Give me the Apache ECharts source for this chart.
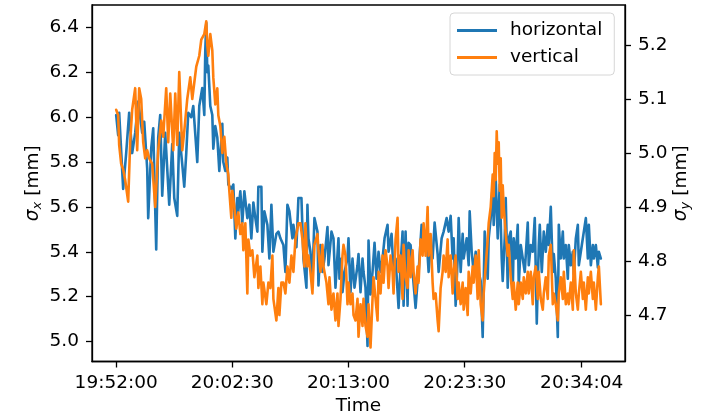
<!DOCTYPE html>
<html>
<head>
<meta charset="utf-8">
<script src="https://cdn.jsdelivr.net/npm/echarts@6/dist/echarts.min.js"></script>
<style>
  html, body { margin: 0; padding: 0; background: #fff; }
  #chart { width: 705px; height: 413px; }
</style>
</head>
<body>
<div id="chart"></div>
<script>
// Beam size logger: one step of the record index is 5.43 s, starting at 19:52:00.
const SAMPLE_SEC = 5.43;

// Horizontal beam size sigma_x [mm]: [record index, value]
const horizontal = [
  [0,6.01],[2,5.92],[3,6.02],[7,5.68],[10,5.84],[13,6.02],[16,5.84],[19,5.93],[22,6.07],[26,5.93],
  [28,5.98],[31,5.77],[32,5.55],[35,5.86],[37,5.95],[40,5.41],[42,5.91],[44,6.01],[46,5.65],[49,5.93],
  [53,5.61],[56,5.88],[58,5.64],[61,5.56],[63,5.93],[66,5.79],[68,5.69],[70,5.84],[72,6.02],[75,6.00],
  [77,6.05],[81,5.80],[83,6.05],[86,6.13],[88,6.01],[89,6.30],[90,6.42],[91,6.20],[92,6.23],[94,6.05],
  [96,6.01],[97,5.86],[99,5.96],[101,5.91],[103,5.76],[106,5.97],[107,5.80],[109,5.76],[111,5.82],[112,5.70],
  [115,5.68],[117,5.70],[119,5.46],[121,5.64],[122,5.58],[124,5.67],[126,5.53],[128,5.67],[131,5.55],[133,5.61],
  [135,5.46],[137,5.62],[139,5.55],[141,5.49],[142,5.69],[145,5.69],[146,5.40],[148,5.58],[151,5.52],[153,5.37],
  [155,5.61],[157,5.40],[160,5.48],[162,5.49],[164,5.46],[167,5.43],[169,5.31],[171,5.61],[173,5.58],[176,5.46],
  [177,5.52],[180,5.42],[182,5.64],[185,5.64],[187,5.37],[190,5.24],[191,5.61],[192,5.46],[194,5.40],[196,5.28],
  [198,5.55],[201,5.49],[202,5.25],[204,5.43],[206,5.31],[208,5.37],[211,5.51],[212,5.34],[215,5.49],[217,5.46],
  [219,5.24],[222,5.46],[223,5.28],[225,5.37],[226,5.22],[228,5.31],[231,5.37],[232,5.46],[234,5.22],[236,5.37],
  [238,5.24],[241,5.34],[242,5.39],[244,5.22],[246,5.37],[247,5.31],[249,5.24],[251,4.98],[252,5.45],[254,5.21],
  [256,5.31],[258,5.44],[260,5.28],[262,5.40],[264,5.31],[266,5.37],[268,5.46],[271,5.52],[272,5.40],[275,5.48],
  [277,5.31],[279,5.37],[282,5.15],[284,5.34],[286,5.49],[287,5.16],[289,5.49],[291,5.16],[292,5.44],[294,5.43],
  [296,5.31],[299,5.15],[301,5.27],[302,5.31],[305,5.52],[307,5.43],[310,5.46],[312,5.31],[314,5.43],[316,5.37],
  [318,5.53],[321,5.39],[322,5.31],[325,5.46],[327,5.49],[330,5.55],[332,5.49],[334,5.56],[336,5.37],[337,5.46],
  [339,5.16],[341,5.37],[342,5.55],[344,5.31],[346,5.48],[347,5.37],[350,5.46],[352,5.34],[353,5.58],[355,5.40],
  [357,5.31],[359,5.40],[362,5.31],[364,5.27],[366,5.02],[368,5.49],[371,5.28],[372,5.46],[374,5.55],[376,5.70],
  [377,5.52],[379,5.73],[381,5.46],[383,5.70],[385,5.37],[386,5.27],[388,5.46],[389,5.64],[391,5.24],[392,5.46],
  [394,5.49],[396,5.22],[397,5.46],[399,5.37],[401,5.52],[402,5.25],[404,5.43],[406,5.37],[408,5.31],[411,5.53],
  [412,5.34],[414,5.43],[416,5.40],[418,5.55],[420,5.08],[422,5.43],[423,5.52],[425,5.31],[427,5.49],[429,5.40],
  [431,5.52],[432,5.43],[434,5.60],[436,5.31],[437,5.39],[439,5.28],[441,5.02],[442,5.52],[444,5.37],[446,5.49],
  [447,5.37],[449,5.43],[451,5.28],[452,5.43],[454,5.34],[456,5.40],[457,5.30],[459,5.46],[461,5.52],[462,5.34],
  [465,5.43],[467,5.49],[469,5.55],[471,5.37],[472,5.52],[474,5.34],[476,5.43],[477,5.37],[479,5.43],[481,5.33],
  [482,5.40],[484,5.37]
];

// Vertical beam size sigma_y [mm]: [record index, value]
const vertical = [
  [0,5.08],[2,5.07],[3,5.015],[5,4.98],[7,4.97],[9,4.95],[12,4.91],[14,5.02],[16,5.08],[19,5.12],
  [21,5.005],[23,5.12],[25,5.10],[27,5.02],[29,4.99],[31,5.005],[33,4.99],[36,4.98],[39,4.90],[42,5.005],
  [45,5.06],[47,5.03],[50,5.12],[52,5.02],[54,5.11],[57,5.005],[59,5.11],[61,5.015],[63,5.15],[66,5.005],
  [68,5.04],[71,5.10],[74,5.14],[76,5.10],[78,5.13],[80,5.16],[83,5.18],[85,5.21],[88,5.22],[90,5.244],
  [91,5.20],[92,5.18],[94,5.22],[96,5.19],[97,5.14],[99,5.09],[101,5.12],[102,5.07],[104,5.05],[106,5.00],
  [108,5.03],[110,4.98],[112,4.96],[113,4.93],[115,4.88],[116,4.93],[118,4.90],[120,4.86],[122,4.89],[124,4.85],
  [126,4.87],[127,4.82],[129,4.87],[131,4.74],[132,4.84],[134,4.81],[136,4.82],[138,4.77],[141,4.81],[142,4.75],
  [144,4.79],[146,4.72],[147,4.76],[150,4.72],[152,4.76],[154,4.75],[156,4.81],[157,4.73],[160,4.69],[162,4.75],
  [163,4.70],[165,4.76],[167,4.76],[169,4.74],[171,4.79],[173,4.76],[175,4.81],[177,4.78],[179,4.84],[182,4.87],
  [184,4.87],[186,4.84],[188,4.79],[189,4.87],[191,4.79],[192,4.81],[194,4.78],[196,4.74],[198,4.83],[201,4.85],
  [202,4.82],[204,4.78],[206,4.83],[207,4.79],[210,4.76],[212,4.72],[213,4.77],[215,4.71],[217,4.74],[219,4.69],
  [221,4.74],[222,4.68],[224,4.73],[226,4.81],[227,4.83],[229,4.81],[231,4.72],[232,4.76],[234,4.72],[236,4.74],
  [237,4.70],[239,4.69],[241,4.73],[242,4.66],[244,4.72],[246,4.68],[247,4.73],[249,4.68],[251,4.66],[252,4.72],
  [254,4.64],[256,4.73],[257,4.77],[259,4.73],[261,4.69],[262,4.78],[264,4.74],[266,4.81],[267,4.76],[269,4.82],
  [271,4.79],[272,4.75],[274,4.81],[276,4.78],[277,4.74],[279,4.84],[281,4.88],[282,4.78],[284,4.81],[286,4.73],
  [287,4.83],[289,4.77],[291,4.75],[292,4.82],[294,4.77],[296,4.82],[297,4.78],[299,4.74],[301,4.79],[302,4.76],
  [304,4.84],[306,4.81],[307,4.87],[309,4.81],[311,4.90],[312,4.81],[314,4.85],[316,4.76],[317,4.73],[319,4.74],
  [321,4.69],[322,4.67],[324,4.75],[326,4.78],[327,4.81],[329,4.78],[331,4.84],[332,4.77],[334,4.81],[336,4.74],
  [337,4.78],[339,4.81],[341,4.73],[342,4.76],[344,4.72],[346,4.76],[347,4.71],[349,4.75],[351,4.70],[352,4.78],
  [354,4.74],[356,4.79],[357,4.76],[359,4.81],[361,4.73],[362,4.82],[364,4.72],[366,4.69],[367,4.74],[369,4.79],
  [371,4.84],[372,4.87],[374,4.90],[376,4.96],[377,4.92],[378,5.00],[379,4.95],[380,5.04],[381,4.98],[382,5.02],
  [383,4.93],[384,4.99],[385,4.88],[386,4.94],[387,4.90],[389,4.85],[391,4.81],[392,4.83],[394,4.77],[396,4.73],
  [397,4.76],[399,4.71],[401,4.76],[402,4.72],[404,4.76],[406,4.73],[407,4.77],[409,4.74],[411,4.78],[412,4.74],
  [414,4.78],[416,4.72],[417,4.77],[419,4.79],[421,4.73],[422,4.78],[424,4.73],[426,4.71],[427,4.74],[429,4.77],
  [431,4.73],[432,4.81],[434,4.83],[436,4.72],[437,4.74],[439,4.72],[441,4.69],[442,4.74],[444,4.77],[446,4.73],
  [447,4.78],[449,4.72],[451,4.74],[452,4.72],[454,4.76],[456,4.71],[457,4.82],[459,4.74],[461,4.71],[462,4.74],
  [464,4.78],[466,4.73],[467,4.76],[469,4.71],[471,4.77],[472,4.74],[474,4.78],[476,4.73],[477,4.76],[479,4.71],
  [481,4.77],[482,4.79],[484,4.72]
];

// Time axis ticks (seconds after 19:52:00) and their labels
const timeTickSeconds = [0, 630, 1260, 1890, 2524];
const timeTickLabels = ['19:52:00', '20:02:30', '20:13:00', '20:23:30', '20:34:04'];

const sigmaXTicks = [5.0, 5.2, 5.4, 5.6, 5.8, 6.0, 6.2, 6.4];
const sigmaYTicks = [4.7, 4.8, 4.9, 5.0, 5.1, 5.2];

const FONT = 'DejaVu Sans';
const FS = 18.5;
const INK = '#000';

const toXY = rows => rows.map(([k, v]) => [k * SAMPLE_SEC, v]);

function axisNameStyle() {
  return {
    fontFamily: FONT, fontSize: FS, color: INK,
    rich: {
      g: { fontFamily: FONT, fontSize: FS, fontStyle: 'italic', color: INK },
      s: { fontFamily: FONT, fontSize: 13, fontStyle: 'italic', color: INK, padding: [9, 0, 0, 0] },
      t: { fontFamily: FONT, fontSize: FS, color: INK }
    }
  };
}

function yAxisCommon(ticks, min, max, pos) {
  return {
    type: 'value', position: pos, min: min, max: max,
    axisLine: { show: true, onZero: false, lineStyle: { color: INK, width: 1.3 } },
    axisTick: { show: true, customValues: ticks, length: 6, inside: false, lineStyle: { color: INK, width: 1.3 } },
    axisLabel: {
      customValues: ticks, formatter: v => v.toFixed(1),
      margin: 13, fontFamily: FONT, fontSize: FS, color: INK
    },
    splitLine: { show: false },
    nameLocation: 'middle', nameRotate: 90, nameMoveOverlap: false,
    nameTextStyle: axisNameStyle()
  };
}

const chart = echarts.init(document.getElementById('chart'), null, { renderer: 'canvas' });
chart.setOption({
  animation: false,
  backgroundColor: '#fff',
  grid: {
    left: 92, right: 80, top: 5, bottom: 51.5,
    show: true, borderColor: INK, borderWidth: 1.3, backgroundColor: 'transparent',
    containLabel: false, outerBoundsMode: 'none'
  },
  legend: {
    orient: 'vertical', left: 450, top: 13,
    padding: [8, 12, 8, 7], itemGap: 8,
    itemWidth: 40, itemHeight: 3, icon: 'rect',
    borderColor: '#d6d6d6', borderWidth: 1, borderRadius: 4,
    backgroundColor: 'rgba(255,255,255,0.8)',
    formatter: name => '{n|' + name + '}',
    textStyle: {
      fontFamily: FONT, fontSize: FS, color: INK,
      rich: { n: { fontFamily: FONT, fontSize: FS, color: INK, padding: [0, 0, 0, 8] } }
    },
    data: ['horizontal', 'vertical']
  },
  xAxis: {
    type: 'value', min: -131, max: 2759,
    axisLine: { show: true, onZero: false, lineStyle: { color: INK, width: 1.3 } },
    axisTick: { show: true, customValues: timeTickSeconds, length: 6, lineStyle: { color: INK, width: 1.3 } },
    axisLabel: {
      customValues: timeTickSeconds,
      formatter: v => timeTickLabels[timeTickSeconds.indexOf(v)],
      margin: 12, fontFamily: FONT, fontSize: FS, color: INK
    },
    splitLine: { show: false },
    name: 'Time', nameLocation: 'middle', nameGap: 35, nameMoveOverlap: false,
    nameTextStyle: { fontFamily: FONT, fontSize: FS, color: INK }
  },
  yAxis: [
    Object.assign(yAxisCommon(sigmaXTicks, 4.911, 6.5, 'left'),
      { name: '{g|σ}{s|x}{t| [mm]}', nameGap: 48 }),
    Object.assign(yAxisCommon(sigmaYTicks, 4.614, 5.274, 'right'),
      { name: '{g|σ}{s|y}{t| [mm]}', nameGap: 45 })
  ],
  series: [
    {
      name: 'horizontal', type: 'line', yAxisIndex: 0,
      data: toXY(horizontal), showSymbol: false, symbol: 'none',
      color: '#1f77b4',
      lineStyle: { color: '#1f77b4', width: 2.6, join: 'round', cap: 'round' },
      itemStyle: { color: '#1f77b4' }
    },
    {
      name: 'vertical', type: 'line', yAxisIndex: 1,
      data: toXY(vertical), showSymbol: false, symbol: 'none',
      color: '#ff7f0e',
      lineStyle: { color: '#ff7f0e', width: 2.6, join: 'round', cap: 'round' },
      itemStyle: { color: '#ff7f0e' }
    }
  ]
});
</script>
</body>
</html>
